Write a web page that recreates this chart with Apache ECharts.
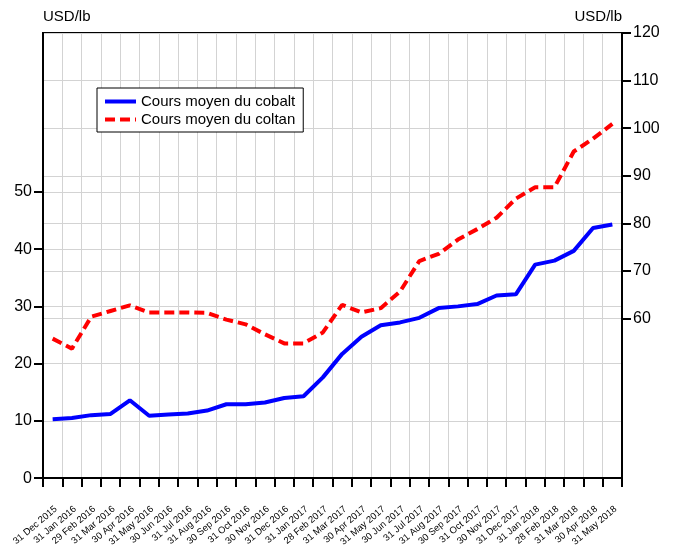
<!DOCTYPE html>
<html>
<head>
<meta charset="utf-8">
<script src="https://cdn.jsdelivr.net/npm/echarts@6/dist/echarts.min.js"></script>
<style>
  html, body { margin: 0; padding: 0; background: #fff; }
  #chart { width: 677px; height: 549px; }
</style>
</head>
<body>
<div id="chart"></div>
<script>
// mois (fin de mois)
const categories = [
  '31 Dec 2015', '31 Jan 2016', '29 Feb 2016', '31 Mar 2016', '30 Apr 2016', '31 May 2016',
  '30 Jun 2016', '31 Jul 2016', '31 Aug 2016', '30 Sep 2016', '31 Oct 2016', '30 Nov 2016',
  '31 Dec 2016', '31 Jan 2017', '28 Feb 2017', '31 Mar 2017', '30 Apr 2017', '31 May 2017',
  '30 Jun 2017', '31 Jul 2017', '31 Aug 2017', '30 Sep 2017', '31 Oct 2017', '30 Nov 2017',
  '31 Dec 2017', '31 Jan 2018', '28 Feb 2018', '31 Mar 2018', '30 Apr 2018', '31 May 2018'
];

// cobalt, axe de gauche
const cobalt = [
  10.3, 10.5, 11.0, 11.2, 13.6, 10.9, 11.1, 11.3, 11.8, 12.9,
  12.9, 13.2, 14.0, 14.3, 17.6, 21.7, 24.7, 26.7, 27.2, 28.0,
  29.7, 30.0, 30.4, 31.9, 32.1, 37.3, 38.0, 39.7, 43.7, 44.3
];

// coltan, axe de droite
const coltan = [
  55.8, 53.7, 60.4, 61.6, 62.8, 61.3, 61.3, 61.3, 61.2, 59.8,
  58.8, 56.7, 54.8, 54.8, 57.1, 62.9, 61.3, 62.2, 65.7, 72.1,
  73.6, 76.6, 78.8, 81.2, 85.2, 87.6, 87.6, 95.1, 97.8, 100.9
];

const leftTicks = [0, 10, 20, 30, 40, 50];
const rightTicks = [60, 70, 80, 90, 100, 110, 120];

const FONT = "'Liberation Sans Narrow', 'Arial Narrow', 'Liberation Sans', Arial, sans-serif";

const chart = echarts.init(document.getElementById('chart'));

function valueAxis(pos, min, max, ticks, nameAlign) {
  return {
    type: 'value',
    position: pos,
    min: min,
    max: max,
    name: 'USD/lb',
    nameLocation: 'end',
    nameGap: 16,
    nameTextStyle: { color: '#000', fontSize: 15, fontFamily: FONT, align: nameAlign, verticalAlign: 'middle' },
    axisLine: { show: true, onZero: false, lineStyle: { color: '#000', width: 2 } },
    axisTick: { show: true, length: 9, customValues: ticks, lineStyle: { color: '#000', width: 2 } },
    axisLabel: { customValues: ticks, color: '#000', fontSize: 16, fontFamily: FONT, margin: 11 },
    splitLine: { show: true, lineStyle: { color: '#d3d3d3', width: 1 } }
  };
}

const option = {
  animation: false,
  backgroundColor: '#fff',
  textStyle: { fontFamily: FONT },
  grid: {
    left: 43,
    right: 55,
    top: 33,
    bottom: 65,
    show: true,
    borderColor: '#000',
    borderWidth: 2,
    containLabel: false
  },
  legend: {
    orient: 'vertical',
    left: 97,
    top: 88,
    padding: [6, 8, 5, 6],
    itemWidth: 31,
    itemHeight: 14,
    itemGap: 3,
    backgroundColor: '#fff',
    borderColor: '#000',
    borderWidth: 1,
    borderRadius: 0,
    itemStyle: { opacity: 0 },
    lineStyle: { width: 4 },
    textStyle: { color: '#000', fontSize: 15, fontFamily: FONT },
    data: ['Cours moyen du cobalt', 'Cours moyen du coltan']
  },
  xAxis: {
    type: 'category',
    data: categories,
    boundaryGap: true,
    axisLine: { lineStyle: { color: '#000', width: 2 } },
    axisTick: { show: true, length: 9, lineStyle: { color: '#000', width: 2 } },
    axisLabel: {
      interval: 0,
      rotate: 40,
      margin: 26,
      color: '#000',
      fontSize: 9.5,
      fontFamily: FONT,
      verticalAlign: 'top'
    },
    splitLine: { show: true, lineStyle: { color: '#d3d3d3', width: 1 } }
  },
  yAxis: [
    valueAxis('left', 0, 77.76, leftTicks, 'left'),
    valueAxis('right', 26.5, 120, rightTicks, 'right')
  ],
  series: [
    {
      name: 'Cours moyen du cobalt',
      type: 'line',
      yAxisIndex: 0,
      data: cobalt,
      symbol: 'none',
      color: '#0000ff',
      lineStyle: { color: '#0000ff', width: 4 }
    },
    {
      name: 'Cours moyen du coltan',
      type: 'line',
      yAxisIndex: 1,
      data: coltan,
      symbol: 'none',
      color: '#ff0000',
      lineStyle: { color: '#ff0000', width: 4, type: [10, 5] }
    }
  ]
};

chart.setOption(option);
</script>
</body>
</html>
